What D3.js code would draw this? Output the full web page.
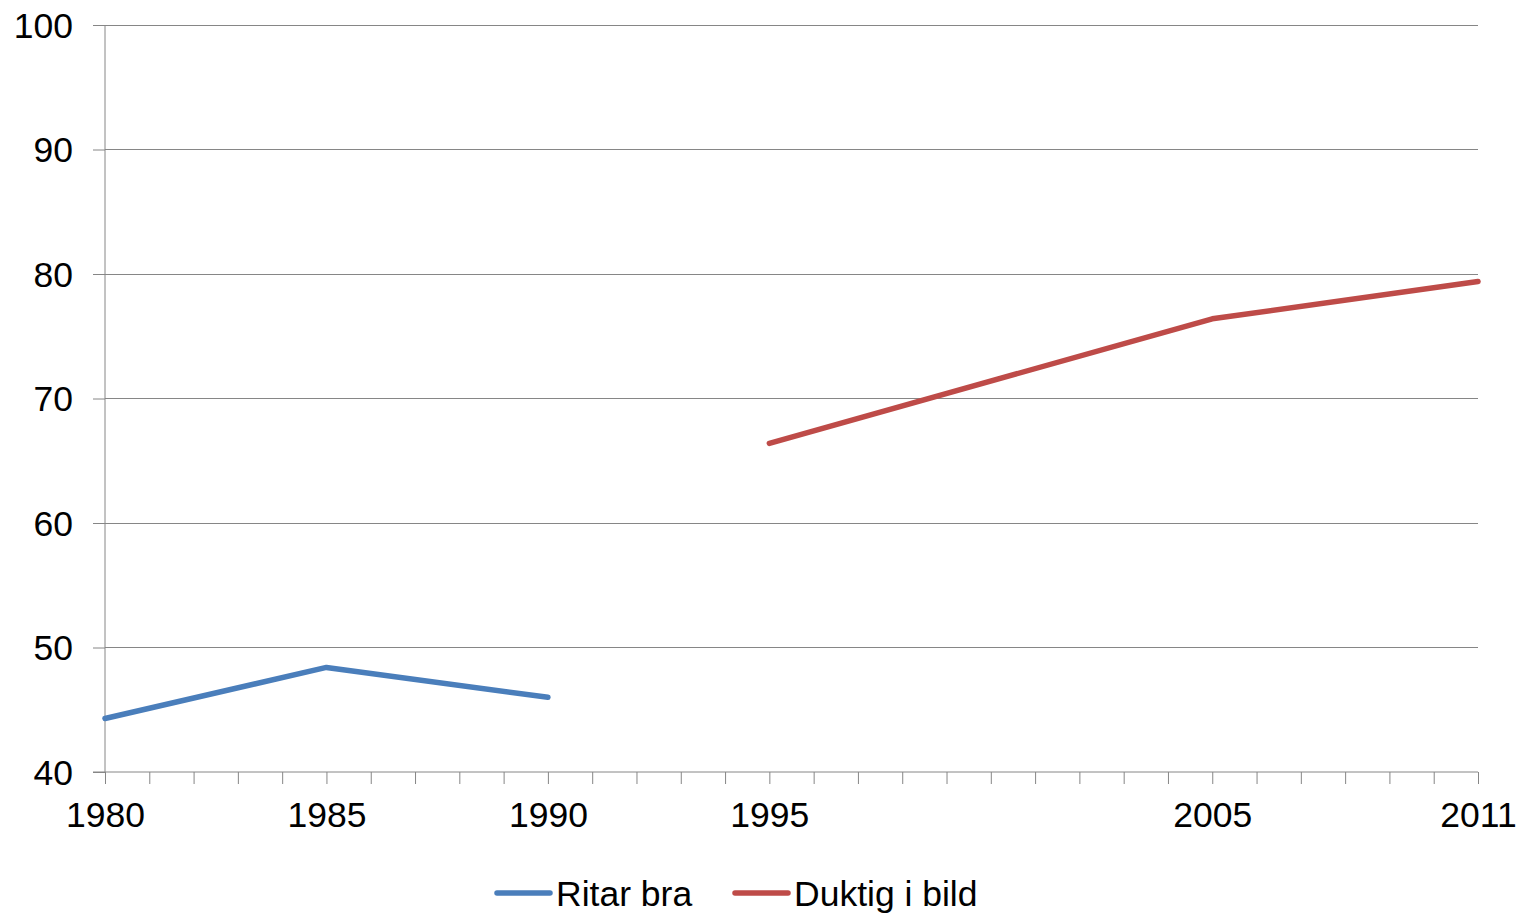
<!DOCTYPE html>
<html><head><meta charset="utf-8">
<script src="https://cdn.jsdelivr.net/npm/d3@7"></script>
<style>body{margin:0;background:#fff}svg{display:block}text{font-family:"Liberation Sans",Arial,sans-serif;fill:#000}</style>
</head><body><svg id="c" width="1528" height="913"></svg>
<script>
const seriesNames = ["Ritar bra", "Duktig i bild"];
const seriesColors = ["#4a7ebb", "#be4b48"];
const ritarYears = [1980, 1985, 1990];
const ritarValues = [44.3, 48.4, 46.0];
const duktigYears = [1995, 2005, 2011];
const duktigValues = [66.4, 76.4, 79.4];
const xTickLabels = [1980, 1985, 1990, 1995, 2005, 2011];
const yTicks = [40, 50, 60, 70, 80, 90, 100];

const svg = d3.select("#c");
const x = d3.scaleLinear().domain([1980, 2011]).range([105, 1478]);
const y = d3.scaleLinear().domain([40, 100]).range([772, 25]);
const grey = "#868686";
const fs = "35.5px";

// gridlines
svg.append("g").selectAll("line").data(yTicks.filter(d => d > 40)).join("line")
  .attr("x1", x(1980)).attr("x2", x(2011)).attr("y1", d => y(d)).attr("y2", d => y(d))
  .attr("stroke", grey).attr("stroke-width", 1).attr("shape-rendering", "crispEdges");

// y axis
const yAxis = d3.axisLeft(y).tickValues(yTicks).tickSize(12).tickPadding(20).tickFormat(d3.format("d"));
const gy = svg.append("g").attr("transform", `translate(${x(1980)},0)`).call(yAxis);
gy.select(".domain").attr("stroke", grey).attr("d", `M0,${y(40)}V${y(100)}`);
gy.selectAll(".tick line").attr("stroke", grey);
gy.selectAll(".tick text").style("font-size", fs).attr("dy", "0.34em");

// x axis
const allYears = d3.range(1980, 2012);
const xAxis = d3.axisBottom(x).tickValues(allYears).tickSize(12).tickPadding(18)
  .tickFormat(d => xTickLabels.includes(d) ? d : "");
const gx = svg.append("g").attr("transform", `translate(0,${y(40)})`).call(xAxis);
gx.select(".domain").attr("stroke", grey).attr("d", `M${x(1980) - 12},0H${x(2011)}`);
gx.selectAll(".tick line").attr("stroke", grey);
gx.selectAll(".tick text").style("font-size", fs);

// lines
const line = d3.line().x(d => x(d[0])).y(d => y(d[1]));
const data = [d3.zip(ritarYears, ritarValues), d3.zip(duktigYears, duktigValues)];
svg.append("g").selectAll("path").data(data).join("path")
  .attr("d", line).attr("fill", "none")
  .attr("stroke", (d, i) => seriesColors[i]).attr("stroke-width", 5.5)
  .attr("stroke-linejoin", "round").attr("stroke-linecap", "round");

// legend
const legendPos = [497, 735];
const lg = svg.append("g");
seriesNames.forEach((n, i) => {
  lg.append("line").attr("x1", legendPos[i]).attr("x2", legendPos[i] + 53)
    .attr("y1", 893).attr("y2", 893).attr("stroke", seriesColors[i]).attr("stroke-width", 5.5).attr("stroke-linecap", "round");
  lg.append("text").attr("x", legendPos[i] + 59).attr("y", 893).attr("dy", "0.36em")
    .style("font-size", fs).text(n);
});
</script></body></html>
